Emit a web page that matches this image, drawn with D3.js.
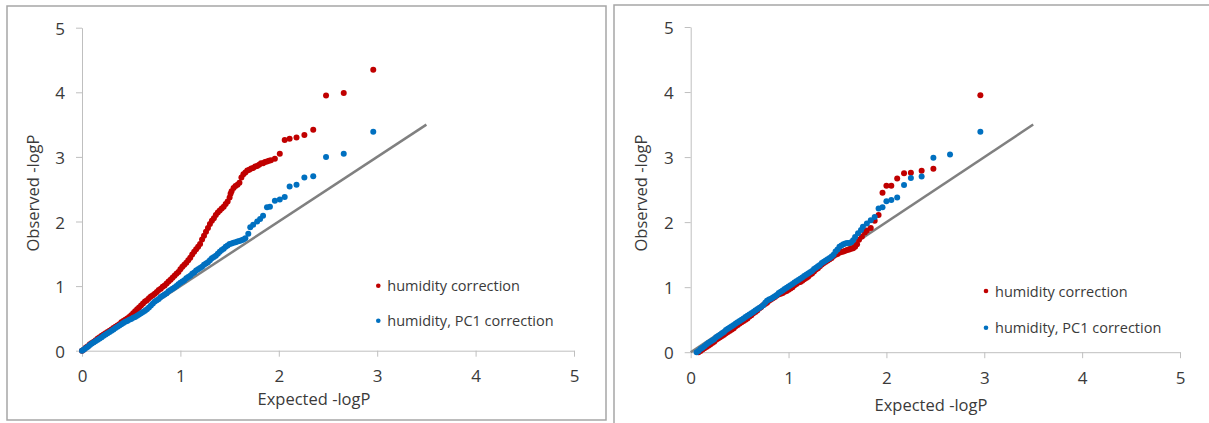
<!DOCTYPE html>
<html>
<head>
<meta charset="utf-8">
<script src="https://cdn.jsdelivr.net/npm/d3@7"></script>
<style>
  body { margin: 0; background: #fff; }
  svg { display: block; }
  text { font-family: "Open Sans", "DejaVu Sans", sans-serif; fill: #3a3a3a; }
  .axis path, .axis line { stroke: #bfbfbf; stroke-width: 1; }
  .panel-border { fill: none; stroke: #a6a6a6; stroke-width: 1.5; }
</style>
</head>
<body>
<div id="chart"></div>
<script>
// tick values shared by both axes
var ticks = [0, 1, 2, 3, 4, 5];
var seriesNames = ["humidity correction", "humidity, PC1 correction"];
var seriesColors = ["#c00000", "#0070c0"];
var diagonal = [[0, 0], [3.5, 3.5]];

// left chart: [expected, observed]
var leftHumidity = [
  [0.00,0.00],[0.02,0.02],[0.04,0.05],[0.06,0.07],[0.08,0.10],[0.10,0.12],[0.12,0.14],[0.14,0.16],
  [0.16,0.19],[0.18,0.21],[0.20,0.23],[0.22,0.25],[0.24,0.27],[0.26,0.29],[0.28,0.31],[0.30,0.33],
  [0.32,0.35],[0.34,0.37],[0.36,0.39],[0.38,0.41],[0.40,0.44],[0.42,0.46],[0.44,0.48],[0.46,0.50],
  [0.48,0.52],[0.50,0.55],[0.52,0.58],[0.54,0.61],[0.56,0.64],[0.58,0.67],[0.60,0.70],[0.62,0.73],
  [0.64,0.76],[0.66,0.78],[0.68,0.81],[0.70,0.84],[0.72,0.86],[0.74,0.88],[0.76,0.91],[0.78,0.94],
  [0.80,0.96],[0.82,0.99],[0.84,1.01],[0.86,1.04],[0.88,1.07],[0.90,1.10],[0.92,1.13],[0.94,1.16],
  [0.96,1.19],[0.98,1.22],[1.00,1.26],[1.02,1.30],[1.04,1.33],[1.06,1.36],[1.08,1.40],[1.10,1.44],
  [1.12,1.49],[1.14,1.53],[1.16,1.57],[1.18,1.61],[1.20,1.65],[1.22,1.72],[1.24,1.78],[1.26,1.84],
  [1.28,1.90],[1.30,1.96],[1.32,2.01],[1.34,2.05],[1.36,2.10],[1.38,2.14],[1.40,2.17],[1.42,2.20],
  [1.44,2.23],[1.46,2.27],[1.48,2.31],[1.50,2.37],[1.51,2.43],[1.52,2.47],[1.54,2.52],[1.56,2.55],
  [1.58,2.57],[1.60,2.60],[1.62,2.68],[1.64,2.73],[1.66,2.76],[1.68,2.79],[1.70,2.80],[1.72,2.82],
  [1.74,2.83],[1.76,2.85],[1.78,2.86],[1.80,2.88],[1.82,2.90],[1.84,2.90],[1.86,2.92],[1.88,2.93],
  [1.90,2.94],[1.92,2.95],[1.96,2.97],[2.01,3.05],[2.06,3.26],[2.11,3.28],[2.18,3.30],[2.26,3.34],
  [2.35,3.42],[2.48,3.95],[2.66,3.99],[2.96,4.35]
];
var leftHumidityPC1 = [
  [0.00,0.00],[0.02,0.02],[0.04,0.04],[0.06,0.06],[0.08,0.09],[0.10,0.11],[0.12,0.13],[0.14,0.15],
  [0.16,0.17],[0.18,0.19],[0.20,0.21],[0.22,0.23],[0.24,0.25],[0.26,0.27],[0.28,0.29],[0.30,0.31],
  [0.32,0.33],[0.34,0.35],[0.36,0.37],[0.38,0.39],[0.40,0.41],[0.42,0.43],[0.44,0.45],[0.46,0.46],
  [0.48,0.48],[0.50,0.49],[0.52,0.51],[0.54,0.52],[0.56,0.54],[0.58,0.56],[0.60,0.58],[0.62,0.60],
  [0.64,0.62],[0.66,0.64],[0.68,0.67],[0.70,0.70],[0.72,0.73],[0.74,0.76],[0.76,0.78],[0.78,0.80],
  [0.80,0.83],[0.82,0.85],[0.84,0.87],[0.86,0.89],[0.88,0.92],[0.90,0.94],[0.92,0.96],[0.94,0.98],
  [0.96,1.00],[0.98,1.03],[1.00,1.05],[1.02,1.07],[1.04,1.09],[1.06,1.12],[1.08,1.14],[1.10,1.16],
  [1.12,1.19],[1.14,1.21],[1.16,1.24],[1.18,1.26],[1.20,1.28],[1.22,1.30],[1.24,1.33],[1.26,1.35],
  [1.28,1.37],[1.30,1.40],[1.32,1.43],[1.34,1.45],[1.36,1.47],[1.38,1.50],[1.40,1.53],[1.42,1.56],
  [1.44,1.58],[1.46,1.61],[1.48,1.63],[1.50,1.65],[1.52,1.66],[1.54,1.67],[1.56,1.68],[1.58,1.69],
  [1.60,1.70],[1.62,1.71],[1.64,1.72],[1.66,1.74],[1.69,1.81],[1.71,1.91],[1.74,1.95],[1.78,2.00],
  [1.81,2.04],[1.84,2.09],[1.88,2.22],[1.91,2.23],[1.96,2.32],[2.01,2.34],[2.06,2.38],[2.11,2.54],
  [2.18,2.57],[2.26,2.68],[2.35,2.70],[2.48,3.00],[2.66,3.05],[2.96,3.39]
];

// right chart: [expected, observed]
var rightHumidity = [
  [0.08,0.00],[0.10,0.02],[0.12,0.04],[0.14,0.06],[0.16,0.08],[0.18,0.10],[0.20,0.12],[0.22,0.14],
  [0.24,0.16],[0.26,0.19],[0.28,0.21],[0.30,0.23],[0.32,0.25],[0.34,0.27],[0.36,0.29],[0.38,0.31],
  [0.40,0.33],[0.42,0.35],[0.44,0.37],[0.46,0.40],[0.48,0.42],[0.50,0.44],[0.52,0.46],[0.54,0.48],
  [0.56,0.50],[0.58,0.52],[0.60,0.55],[0.62,0.57],[0.64,0.60],[0.66,0.62],[0.68,0.64],[0.70,0.67],
  [0.72,0.69],[0.74,0.72],[0.76,0.74],[0.78,0.76],[0.80,0.79],[0.82,0.81],[0.84,0.83],[0.86,0.85],
  [0.88,0.87],[0.90,0.89],[0.92,0.90],[0.94,0.91],[0.96,0.93],[0.98,0.94],[1.00,0.96],[1.02,0.98],
  [1.04,1.00],[1.06,1.03],[1.08,1.05],[1.10,1.07],[1.12,1.08],[1.14,1.10],[1.16,1.12],[1.18,1.14],
  [1.20,1.16],[1.22,1.19],[1.24,1.21],[1.26,1.24],[1.28,1.27],[1.30,1.29],[1.32,1.32],[1.34,1.35],
  [1.36,1.37],[1.38,1.39],[1.40,1.41],[1.42,1.43],[1.44,1.45],[1.46,1.48],[1.48,1.50],[1.50,1.51],
  [1.52,1.53],[1.54,1.54],[1.56,1.55],[1.58,1.56],[1.60,1.57],[1.62,1.58],[1.64,1.59],[1.66,1.60],
  [1.68,1.62],[1.70,1.66],[1.72,1.73],[1.75,1.78],[1.78,1.84],[1.80,1.87],[1.84,1.91],[1.88,2.02],
  [1.92,2.11],[1.96,2.45],[2.00,2.56],[2.05,2.56],[2.11,2.67],[2.18,2.75],[2.25,2.76],[2.36,2.79],
  [2.48,2.82],[2.96,3.95]
];
var rightHumidityPC1 = [
  [0.06,0.00],[0.08,0.02],[0.10,0.05],[0.12,0.07],[0.14,0.09],[0.16,0.12],[0.18,0.14],[0.20,0.16],
  [0.22,0.18],[0.24,0.20],[0.26,0.23],[0.28,0.25],[0.30,0.27],[0.32,0.29],[0.34,0.31],[0.36,0.34],
  [0.38,0.36],[0.40,0.38],[0.42,0.40],[0.44,0.42],[0.46,0.44],[0.48,0.46],[0.50,0.48],[0.52,0.50],
  [0.54,0.52],[0.56,0.54],[0.58,0.56],[0.60,0.58],[0.62,0.60],[0.64,0.62],[0.66,0.64],[0.68,0.66],
  [0.70,0.68],[0.72,0.70],[0.74,0.72],[0.76,0.76],[0.78,0.79],[0.80,0.81],[0.82,0.82],[0.84,0.84],
  [0.86,0.86],[0.88,0.88],[0.90,0.91],[0.92,0.93],[0.94,0.95],[0.96,0.97],[0.98,0.99],[1.00,1.01],
  [1.02,1.03],[1.04,1.05],[1.06,1.07],[1.08,1.09],[1.10,1.11],[1.12,1.13],[1.14,1.15],[1.16,1.17],
  [1.18,1.19],[1.20,1.21],[1.22,1.23],[1.24,1.25],[1.26,1.28],[1.28,1.30],[1.30,1.32],[1.32,1.34],
  [1.34,1.37],[1.36,1.39],[1.38,1.41],[1.40,1.43],[1.42,1.45],[1.44,1.47],[1.46,1.50],[1.48,1.55],
  [1.50,1.58],[1.52,1.62],[1.54,1.64],[1.56,1.66],[1.58,1.67],[1.60,1.68],[1.62,1.68],[1.64,1.69],
  [1.66,1.72],[1.68,1.77],[1.71,1.83],[1.74,1.88],[1.76,1.93],[1.80,1.98],[1.84,2.03],[1.88,2.08],
  [1.92,2.21],[1.96,2.23],[2.00,2.32],[2.05,2.34],[2.11,2.38],[2.18,2.57],[2.25,2.68],[2.36,2.70],
  [2.48,2.99],[2.65,3.04],[2.96,3.39]
];

var svg = d3.select("#chart").append("svg")
    .attr("width", 1209)
    .attr("height", 423);

function drawPanel(p) {
    svg.append("rect")
        .attr("class", "panel-border")
        .attr("x", p.box[0]).attr("y", p.box[1])
        .attr("width", p.box[2]).attr("height", p.box[3]);

    var x = d3.scaleLinear().domain([0, 5]).range(p.xRange);
    var y = d3.scaleLinear().domain([0, 5]).range(p.yRange);
    var g = svg.append("g");

    var xAxis = g.append("g")
        .attr("class", "axis")
        .attr("transform", "translate(0," + p.yRange[0] + ")")
        .call(d3.axisBottom(x).tickValues(ticks).tickFormat(d3.format("d")).tickSize(6).tickSizeOuter(0));
    xAxis.selectAll("text")
        .attr("dy", null).attr("y", 25)
        .attr("dominant-baseline", "central")
        .style("font-size", "17px");

    var yAxis = g.append("g")
        .attr("class", "axis")
        .attr("transform", "translate(" + p.xRange[0] + ",0)")
        .call(d3.axisLeft(y).tickValues(ticks).tickFormat(d3.format("d")).tickSize(6).tickSizeOuter(0));
    yAxis.selectAll("text")
        .attr("dy", null).attr("x", -17)
        .attr("dominant-baseline", "central")
        .style("font-size", "17px");
    g.selectAll(".axis .domain").attr("stroke", "#bfbfbf");

    // y = x reference line
    g.append("path")
        .datum(diagonal)
        .attr("fill", "none")
        .attr("stroke", "#808080")
        .attr("stroke-width", 2.5)
        .attr("d", d3.line().x(function(d) { return x(d[0]); }).y(function(d) { return y(d[1]); }));

    p.series.forEach(function(s, i) {
        g.append("g").selectAll("circle")
            .data(s).enter().append("circle")
            .attr("cx", function(d) { return x(d[0]); })
            .attr("cy", function(d) { return y(d[1]); })
            .attr("r", 3)
            .attr("fill", seriesColors[i]);
    });

    g.append("text")
        .attr("x", p.xTitle[0]).attr("y", p.xTitle[1])
        .attr("text-anchor", "middle")
        .style("font-size", "16.5px")
        .text("Expected -logP");
    g.append("text")
        .attr("transform", "translate(" + p.yTitle[0] + "," + p.yTitle[1] + ") rotate(-90)")
        .attr("text-anchor", "middle")
        .attr("dominant-baseline", "central")
        .style("font-size", "16.5px")
        .text("Observed -logP");

    var legend = g.append("g").selectAll("g")
        .data(seriesNames).enter().append("g")
        .attr("transform", function(d, i) { return "translate(" + p.legend[0] + "," + (p.legend[1] + i * p.legend[2]) + ")"; });
    legend.append("circle").attr("r", 2.3).attr("fill", function(d, i) { return seriesColors[i]; });
    legend.append("text")
        .attr("x", 9)
        .attr("dominant-baseline", "central")
        .style("font-size", "14.5px")
        .text(function(d) { return d; });
}

drawPanel({
    box: [7, 6, 599, 414],
    xRange: [82, 574], yRange: [350.7, 27.7],
    xTitle: [314, 405], yTitle: [32, 193],
    legend: [378.3, 285.7, 35],
    series: [leftHumidity, leftHumidityPC1]
});
drawPanel({
    box: [614, 5, 600, 430],
    xRange: [690.7, 1180], yRange: [352.2, 27],
    xTitle: [931, 411], yTitle: [640, 193],
    legend: [986, 291, 36.7],
    series: [rightHumidity, rightHumidityPC1]
});
</script>
</body>
</html>
